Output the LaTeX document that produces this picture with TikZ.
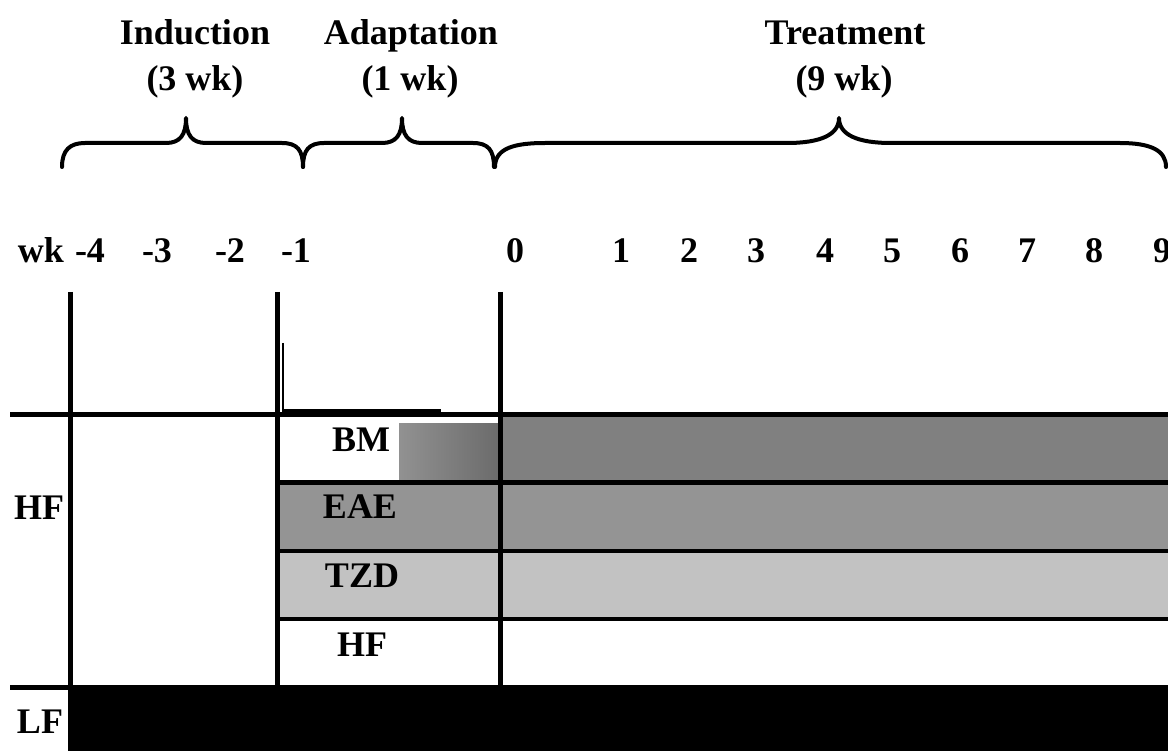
\documentclass[tikz,border=0pt]{standalone}
\usepackage{fontspec}
\setmainfont{Liberation Serif}
\begin{document}
\begin{tikzpicture}[x=1pt,y=-1pt,
  lbl/.style={font=\fontsize{36}{40}\selectfont\bfseries, inner sep=0pt, anchor=base},
  grid/.style={line width=4.6pt},
  bracestyle/.style={line width=4pt, line cap=round, line join=round}]
\useasboundingbox (0,0) rectangle (1168,751);

% shaded treatment bands
\fill[black!50]  (500,417) rectangle (1168,480);
\fill[black!42]  (277,485) rectangle (1168,549);
\fill[black!24]  (277,553) rectangle (1168,617);
\shade[left color=black!43, right color=black!58] (399,423) rectangle (499,479);
\fill[black] (68,690) rectangle (1168,751);

% vertical period boundaries
\draw[grid] (70.5,292) -- (70.5,751);
\draw[grid] (277.5,292) -- (277.5,688);
\draw[grid] (500.5,292) -- (500.5,751);

% horizontal row separators
\draw[grid] (10,414.5) -- (1168,414.5);
\draw[grid] (277,482.5) -- (1168,482.5);
\draw[grid] (277,551) -- (1168,551);
\draw[grid] (277,619) -- (1168,619);
\draw[grid] (10,687.5) -- (1168,687.5);

% small marker in the adaptation column
\draw[line width=1.8pt] (283,343) -- (283,410);
\draw[line width=2.8pt] (282,410.5) -- (441,410.5);

% period braces
\draw[bracestyle] (62,167) .. controls (62,150) and (70,143) .. (85,143) -- (166,143)
  .. controls (180,143) and (186,135) .. (186,118)
  .. controls (186,135) and (192,143) .. (206,143) -- (282,143)
  .. controls (297,143) and (303,150) .. (303,167);
\draw[bracestyle] (303,167) .. controls (303,150) and (309,143) .. (324,143) -- (382,143)
  .. controls (396,143) and (402,135) .. (402,118)
  .. controls (402,135) and (408,143) .. (422,143) -- (473,143)
  .. controls (488,143) and (494,150) .. (494,167);
\draw[bracestyle] (495,167) .. controls (495,148) and (515,143) .. (545,143) -- (787,143)
  .. controls (820,143) and (839,135) .. (839,118)
  .. controls (839,135) and (858,143) .. (891,143) -- (1120,143)
  .. controls (1150,143) and (1166,150) .. (1166,167);

% period titles
\node[lbl] (induction) at (195,45) {Induction};
\node[lbl] (inductionwk) at (195,91) {(3 wk)};
\node[lbl] (adaptation) at (411,45) {Adaptation};
\node[lbl] (adaptationwk) at (410,91) {(1 wk)};
\node[lbl] (treatment) at (845,45) {Treatment};
\node[lbl] (treatmentwk) at (844,91) {(9 wk)};

% week axis
\node[lbl] (wk) at (41,263) {wk};
\node[lbl] (wm4) at (90,263) {-4};
\node[lbl] (wm3) at (157,263) {-3};
\node[lbl] (wm2) at (230,263) {-2};
\node[lbl] (wm1) at (296,263) {-1};
\node[lbl] (w0) at (515,263) {0};
\node[lbl] (w1) at (621,263) {1};
\node[lbl] (w2) at (689,263) {2};
\node[lbl] (w3) at (756,263) {3};
\node[lbl] (w4) at (825,263) {4};
\node[lbl] (w5) at (892,263) {5};
\node[lbl] (w6) at (960,263) {6};
\node[lbl] (w7) at (1027,263) {7};
\node[lbl] (w8) at (1094,263) {8};
\node[lbl] (w9) at (1162,263) {9};

% group labels
\node[lbl] (bm) at (361,451) {BM};
\node[lbl] (eae) at (360,518) {EAE};
\node[lbl] (tzd) at (362,587) {TZD};
\node[lbl] (hfgroup) at (362,656) {HF};
\node[lbl] (hfdiet) at (39,519) {HF};
\node[lbl] (lfdiet) at (40,733) {LF};
\end{tikzpicture}
\end{document}
